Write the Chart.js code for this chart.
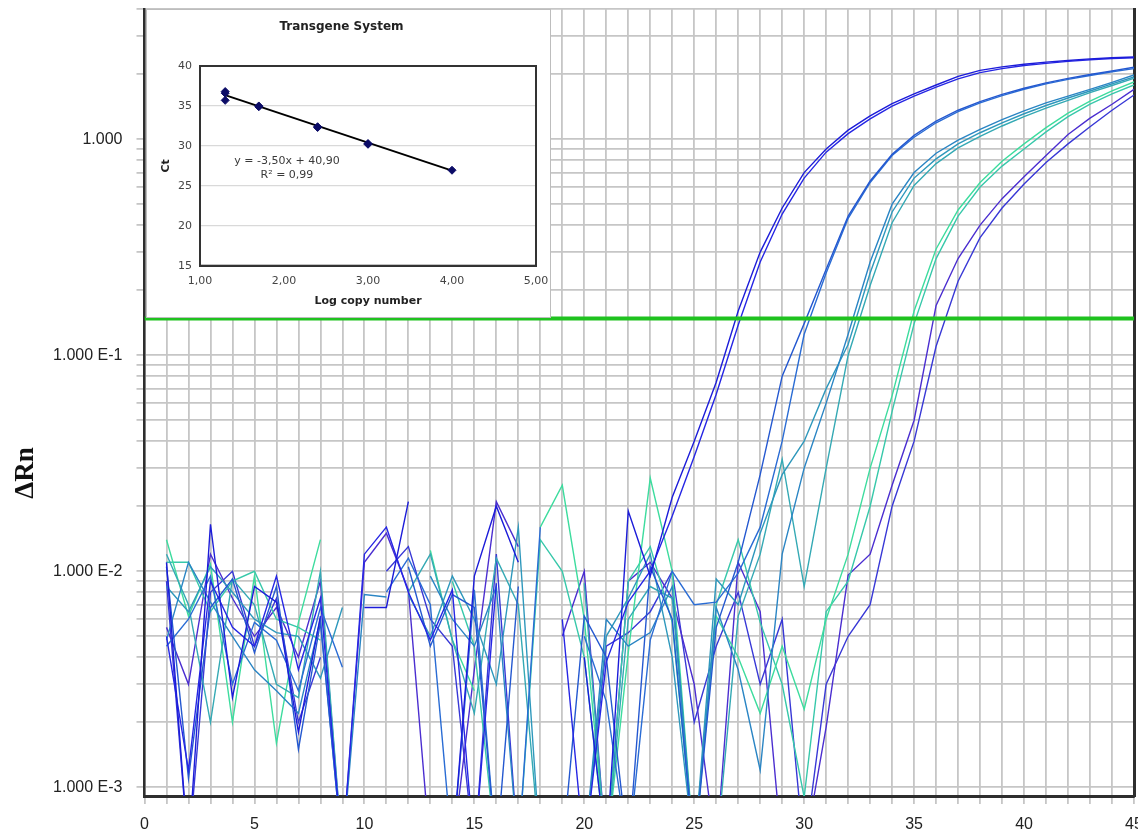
<!DOCTYPE html>
<html>
<head>
<meta charset="utf-8">
<script src="https://cdn.jsdelivr.net/npm/chart.js@4.4.1/dist/chart.umd.min.js"></script>
<style>
  html, body { margin: 0; padding: 0; background: #fff; }
  #wrap { position: relative; width: 1138px; height: 834px; overflow: hidden; }
  #main { position: absolute; left: 0; top: 0; }
  #yTitle { position: absolute; left: -26px; top: 458px; width: 100px; height: 30px; line-height: 30px;
            text-align: center; transform: rotate(-90deg); font: bold 27px "Liberation Serif", serif; color: #111; }
  #inset { position: absolute; left: 146px; top: 9px; width: 405px; height: 309px; box-sizing: border-box;
           border: 1px solid #bdbdbd; background: #fff; }
  #ins { position: absolute; left: 0; top: 0; }
  .eq { position: absolute; left: 0; width: 280px; text-align: center; font: 11px "DejaVu Sans", sans-serif;
        color: #3a3a3a; line-height: 13px; }
</style>
</head>
<body>
<div id="wrap">
  <canvas id="main" width="1138" height="834"></canvas>
  <div id="yTitle">ΔRn</div>
  <div id="inset">
    <canvas id="ins" width="401" height="307"></canvas>
    <div class="eq" style="top:144px">y = -3,50x + 40,90</div>
    <div class="eq" style="top:158px">R² = 0,99</div>
  </div>
</div>
<script>
// ---------------- data ----------------
const cycles = [1,2,3,4,5,6,7,8,9,10,11,12,13,14,15,16,17,18,19,20,21,22,23,24,25,26,27,28,29,30,31,32,33,34,35,36,37,38,39,40,41,42,43,44,45];

// 0.0005 = reading below the axis floor, null = no reading (negative ΔRn)
const curveA1 = [0.011, 0.0005, 0.0165, 0.0026, 0.0085, 0.0072, 0.0018, 0.0062, null, 0.0068,
                 0.0068, 0.021, null, 0.0005, 0.0095, 0.020, 0.011, null, null, 0.0040,
                 0.0005, 0.019, 0.0095, 0.022, 0.040, 0.075, 0.160, 0.30, 0.48, 0.70,
                 0.90, 1.10, 1.28, 1.46, 1.62, 1.78, 1.95, 2.08, 2.16, 2.22,
                 2.27, 2.31, 2.35, 2.38, 2.40];
const curveA2 = [0.005, 0.0012, 0.009, 0.0055, 0.0045, 0.0095, 0.0035, 0.0075, 0.0005, 0.012,
                 0.016, 0.008, 0.0048, 0.0082, 0.0005, 0.0088, null, null, 0.0060, 0.0005,
                 0.0038, 0.0072, 0.0100, 0.018, 0.034, 0.066, 0.138, 0.27, 0.45, 0.66,
                 0.87, 1.06, 1.24, 1.42, 1.58, 1.74, 1.90, 2.03, 2.12, 2.19,
                 2.24, 2.29, 2.33, 2.36, 2.38];
const curveB1 = [0.0105, 0.0011, 0.0068, 0.0092, 0.0042, 0.0085, 0.0015, 0.0058, 0.0005, null,
                 null, 0.0105, 0.0045, 0.0078, 0.0068, 0.0005, 0.0085, null, 0.0005, 0.0062,
                 0.0040, 0.0005, 0.0105, 0.0060, 0.0005, 0.0055, 0.0110, 0.028, 0.080, 0.140,
                 0.25, 0.44, 0.64, 0.85, 1.04, 1.21, 1.36, 1.49, 1.61, 1.72,
                 1.82, 1.91, 1.99, 2.07, 2.15];
const curveB2 = [0.0045, 0.0060, 0.0095, 0.0030, 0.0058, 0.0048, 0.0028, 0.0068, 0.0036, null,
                 0.0080, 0.0115, 0.0070, 0.0005, 0.0082, 0.0005, 0.0005, 0.0160, null, 0.0050,
                 0.0025, 0.0005, 0.0048, 0.0100, 0.0070, 0.0072, 0.0098, 0.016, 0.040, 0.125,
                 0.24, 0.43, 0.63, 0.84, 1.02, 1.19, 1.34, 1.47, 1.59, 1.70,
                 1.80, 1.89, 1.97, 2.05, 2.12];
const curveC1 = [0.0048, 0.0110, 0.0072, 0.0050, 0.0035, 0.0028, 0.0022, 0.0060, 0.0005, 0.0078,
                 0.0076, null, 0.0095, 0.0060, 0.0045, 0.0085, 0.0005, null, null, 0.0005,
                 0.0060, 0.0045, 0.0052, 0.0085, 0.0005, 0.0068, 0.0035, 0.0012, 0.0120, 0.0300,
                 0.060, 0.125, 0.27, 0.50, 0.70, 0.86, 0.99, 1.11, 1.23, 1.35,
                 1.47, 1.58, 1.70, 1.83, 1.98];
const curveC2 = [0.0085, 0.0065, 0.0105, 0.0080, 0.0060, 0.0052, 0.0050, 0.0032, 0.0068, null,
                 null, 0.0078, 0.0050, 0.0095, 0.0060, 0.0030, 0.0160, 0.0005, null, 0.0005,
                 0.0050, 0.0075, 0.0120, 0.0040, 0.0005, 0.0092, 0.0070, 0.0150, 0.0280, 0.0400,
                 0.0700, 0.112, 0.24, 0.46, 0.66, 0.81, 0.95, 1.07, 1.19, 1.31,
                 1.43, 1.55, 1.67, 1.80, 1.94];
const curveC3 = [0.0120, 0.0070, 0.0020, 0.0092, 0.0070, 0.0030, 0.0026, 0.0100, 0.0005, null,
                 null, 0.0080, 0.0120, 0.0048, 0.0022, 0.0115, 0.0070, 0.0005, null, 0.0088,
                 0.0005, 0.0060, 0.0085, 0.0075, 0.0005, 0.0005, 0.0062, 0.0120, 0.0330, 0.0085,
                 0.0300, 0.100, 0.21, 0.41, 0.61, 0.77, 0.91, 1.03, 1.15, 1.27,
                 1.39, 1.51, 1.64, 1.77, 1.91];
const curveD1 = [0.0140, 0.0062, 0.0108, 0.0020, 0.0095, 0.0016, 0.0058, 0.0140, null, null,
                 null, null, 0.0125, 0.0048, 0.0028, null, null, 0.0160, 0.0250, 0.0060,
                 0.0005, 0.0042, 0.0270, 0.0100, 0.0005, 0.0062, 0.0040, 0.0022, 0.0045, 0.0023,
                 0.0060, 0.0120, 0.0300, 0.0650, 0.160, 0.31, 0.47, 0.63, 0.79, 0.95,
                 1.13, 1.32, 1.50, 1.67, 1.84];
const curveD2 = [0.0110, 0.0110, 0.0065, 0.0090, 0.0100, 0.0060, 0.0055, 0.0048, null, null,
                 null, null, null, 0.0090, 0.0045, 0.0005, 0.0005, 0.0140, 0.0100, 0.0040,
                 0.0005, 0.0090, 0.0130, 0.0058, 0.0005, 0.0070, 0.0140, 0.0058, 0.0030, 0.0009,
                 0.0065, 0.0090, 0.0200, 0.0550, 0.140, 0.28, 0.44, 0.60, 0.75, 0.90,
                 1.08, 1.27, 1.45, 1.62, 1.78];
const curveE1 = [0.0055, 0.0030, 0.0120, 0.0075, 0.0050, 0.0068, 0.0040, 0.0090, 0.0005, 0.0110,
                 0.0150, 0.0082, 0.0005, 0.0005, 0.0035, 0.0210, 0.0130, null, 0.0050, 0.0100,
                 0.0005, 0.0090, 0.0110, 0.0075, 0.0030, 0.0005, 0.0110, 0.0065, 0.0005, 0.0005,
                 0.0019, 0.0096, 0.0120, 0.0250, 0.0500, 0.170, 0.28, 0.40, 0.53, 0.67,
                 0.84, 1.05, 1.25, 1.45, 1.70];
const curveE2 = [0.0090, 0.0005, 0.0080, 0.0100, 0.0045, 0.0075, 0.0020, 0.0040, null, null,
                 0.0100, 0.0130, 0.0060, 0.0045, 0.0005, 0.0120, 0.0005, null, null, 0.0005,
                 0.0045, 0.0052, 0.0065, 0.0100, 0.0020, 0.0045, 0.0080, 0.0030, 0.0060, 0.0005,
                 0.0030, 0.0050, 0.0070, 0.0200, 0.0400, 0.110, 0.22, 0.35, 0.48, 0.62,
                 0.78, 0.95, 1.14, 1.36, 1.60];

const thresholdValue = 0.148;

const xTickValues = [0,1,2,3,4,5,6,7,8,9,10,11,12,13,14,15,16,17,18,19,20,21,22,23,24,25,26,27,28,29,30,31,32,33,34,35,36,37,38,39,40,41,42,43,44,45];
const yTickValues = [0.001,0.002,0.003,0.004,0.005,0.006,0.007,0.008,0.009,
                     0.01,0.02,0.03,0.04,0.05,0.06,0.07,0.08,0.09,
                     0.1,0.2,0.3,0.4,0.5,0.6,0.7,0.8,0.9,
                     1,2,3,4];
const yMajorValues = [1, 0.1, 0.01, 0.001];
const yMajorLabels = ['1.000', '1.000 E-1', '1.000 E-2', '1.000 E-3'];

// inset standard curve
const logCopy = [1.3, 1.3, 1.3, 1.7, 1.7, 2.4, 2.4, 3.0, 3.0, 4.0];
const ctValues = [36.8, 36.6, 35.7, 35.0, 34.9, 32.4, 32.3, 30.3, 30.2, 26.95];
const fitX = [1.3, 4.0];
const fitY = [36.35, 26.9];

// ---------------- main chart ----------------
const series = [
  [curveA1, '#1c1cd9'], [curveA2, '#2626e4'],
  [curveB1, '#2458d0'], [curveB2, '#2a6cd4'],
  [curveC1, '#2a85c4'], [curveC2, '#2e98bc'], [curveC3, '#34a9b4'],
  [curveD1, '#3ddc9e'], [curveD2, '#37c8aa'],
  [curveE1, '#4b2ed0'], [curveE2, '#3838d6']
];

const datasets = [
  { data: [{x: 0, y: thresholdValue}, {x: 45, y: thresholdValue}], borderColor: '#1fc21f',
    borderWidth: 4, pointRadius: 0 },
  { data: [{x: -0.3, y: thresholdValue}], showLine: false, clip: false, pointStyle: 'rect',
    pointRadius: 2.2, backgroundColor: '#1fc21f', borderColor: '#1fc21f', borderWidth: 0 }
];
series.forEach(([vals, color]) => {
  datasets.push({
    data: cycles.map((c, i) => ({x: c, y: vals[i]})),
    borderColor: color, borderWidth: 1.4, pointRadius: 0, spanGaps: false, tension: 0
  });
});

const tickFont = {family: '"Liberation Sans", Arial, sans-serif', size: 16};

new Chart(document.getElementById('main'), {
  type: 'line',
  data: { datasets },
  options: {
    responsive: false, animation: false,
    layout: { padding: { top: 9, right: 2, left: 0, bottom: 0 } },
    plugins: { legend: { display: false }, tooltip: { enabled: false }, title: { display: false } },
    scales: {
      x: {
        type: 'linear', min: 0, max: 45,
        afterBuildTicks(s) { s.ticks = xTickValues.map(v => ({value: v})); },
        ticks: { autoSkip: false, maxRotation: 0, font: tickFont, color: '#222', padding: 11,
                 callback: v => (v % 5 === 0 ? String(v) : '') },
        grid: { color: '#c6c6c6', lineWidth: 1.8, tickLength: 8, tickColor: '#c6c6c6' },
        border: { color: '#2e2e2e', width: 3 },
        afterFit(s) { s.height = 38; s.paddingLeft = 0; s.paddingRight = 0; }
      },
      y: {
        type: 'logarithmic', min: 0.000912, max: 4,
        afterBuildTicks(s) { s.ticks = yTickValues.map(v => ({value: v})); },
        ticks: { autoSkip: false, font: tickFont, color: '#222', padding: 14,
                 callback: v => {
                   const k = yMajorValues.findIndex(m => Math.abs(m - v) < m * 1e-6);
                   return k >= 0 ? yMajorLabels[k] : '';
                 } },
        grid: { color: '#c6c6c6', lineWidth: 1.8, tickLength: 8, tickColor: '#c6c6c6' },
        border: { color: '#2e2e2e', width: 2.5 },
        afterFit(s) { s.width = 144.5; s.paddingTop = 0; s.paddingBottom = 0; }
      },
      yR: {
        position: 'right', display: true,
        grid: { display: false, drawTicks: false }, ticks: { display: false },
        border: { display: true, color: '#2e2e2e', width: 3 },
        afterFit(s) { s.width = 0; s.paddingTop = 0; s.paddingBottom = 0; }
      }
    }
  }
});

// ---------------- inset chart ----------------
const boxPlugin = {
  id: 'box',
  afterDatasetsDraw(chart) {
    const {ctx, chartArea: a} = chart;
    ctx.save();
    ctx.strokeStyle = '#333';
    ctx.lineWidth = 2;
    ctx.strokeRect(a.left, a.top, a.right - a.left, a.bottom - a.top);
    ctx.restore();
  }
};
const insFont = {family: '"DejaVu Sans", Verdana, sans-serif', size: 11};
const insBold = {family: '"DejaVu Sans", Verdana, sans-serif', size: 11, weight: 'bold'};

new Chart(document.getElementById('ins'), {
  type: 'scatter',
  data: {
    datasets: [
      { type: 'line', data: fitX.map((x, i) => ({x, y: fitY[i]})), borderColor: '#000',
        borderWidth: 2, pointRadius: 0, order: 1 },
      { data: logCopy.map((x, i) => ({x, y: ctValues[i]})), pointStyle: 'rectRot', pointRadius: 4,
        backgroundColor: '#0b0b66', borderColor: '#0b0b66', order: 0 }
    ]
  },
  options: {
    responsive: false, animation: false,
    layout: { padding: { left: 0, right: 12, top: 0, bottom: 0 } },
    plugins: {
      legend: { display: false }, tooltip: { enabled: false },
      title: { display: true, text: 'Transgene System', color: '#222',
               font: {family: '"DejaVu Sans", Verdana, sans-serif', size: 12, weight: 'bold'},
               padding: { top: 10, bottom: 31.6 } }
    },
    scales: {
      x: {
        type: 'linear', min: 1, max: 5,
        ticks: { stepSize: 1, font: insFont, color: '#444', padding: 9,
                 callback: v => v.toFixed(2).replace('.', ',') },
        grid: { display: false, drawTicks: false },
        border: { color: '#333', width: 2 },
        title: { display: true, text: 'Log copy number', font: insBold, color: '#222',
                 padding: { top: 0, bottom: 9.7 } },
        afterFit(s) { s.height = 51.3; s.paddingLeft = 0; s.paddingRight = 0; }
      },
      y: {
        type: 'linear', min: 15, max: 40,
        ticks: { stepSize: 5, font: insFont, color: '#444', padding: 8 },
        grid: { color: '#d9d9d9', lineWidth: 1.2, drawTicks: false },
        border: { color: '#333', width: 2 },
        title: { display: true, text: 'Ct', font: insBold, color: '#222',
                 padding: { top: 13, bottom: 0 } },
        afterFit(s) { s.width = 53; s.paddingTop = 0; s.paddingBottom = 0; }
      }
    }
  },
  plugins: [boxPlugin]
});
</script>
</body>
</html>
